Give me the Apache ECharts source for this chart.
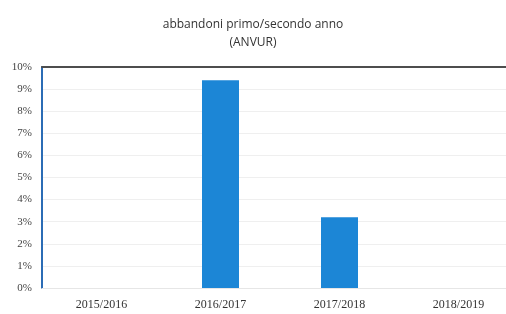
<!DOCTYPE html>
<html>
<head>
<meta charset="utf-8">
<script src="https://cdn.jsdelivr.net/npm/echarts@6/dist/echarts.min.js"></script>
<style>
  html, body { margin: 0; padding: 0; background: #fff; overflow: hidden; }
  #chart { width: 520px; height: 314px; }
</style>
</head>
<body>
<div id="chart"></div>
<script>
const categories = ['2015/2016', '2016/2017', '2017/2018', '2018/2019']
const abbandoni = [null, 9.4, 3.2, null]
const yTicks = [0, 1, 2, 3, 4, 5, 6, 7, 8, 9, 10]

// il grafico originale continua oltre il bordo destro
const chart = echarts.init(document.getElementById('chart'))
chart.setOption({
  animation: false,
  backgroundColor: '#fff',
  title: {
    text: 'abbandoni primo/secondo anno\n(ANVUR)',
    left: 248,
    textAlign: 'center',
    top: 11,
    textStyle: {
      fontFamily: 'Open Sans',
      fontWeight: 'normal',
      fontSize: 12,
      color: '#333',
      lineHeight: 18
    }
  },
  grid: { left: 42, right: 2, top: 67, bottom: 26 },
  xAxis: [{
    type: 'category',
    data: categories,
    axisLine: { show: true, lineStyle: { color: '#e6e6e6', width: 1 } },
    axisTick: { show: false },
    axisLabel: {
      fontFamily: 'Liberation Serif',
      fontSize: 12,
      color: '#333',
      margin: 11
    }
  }, {
    type: 'category',
    position: 'top',
    data: categories,
    axisLine: { show: true, lineStyle: { color: '#4d4d4d', width: 2 } },
    axisTick: { show: false },
    axisLabel: { show: false }
  }],
  yAxis: {
    type: 'value',
    min: yTicks[0],
    max: yTicks[yTicks.length - 1],
    interval: 1,
    axisLine: { show: true, lineStyle: { color: '#2b6cb5', width: 2 } },
    axisTick: { show: false },
    axisLabel: {
      formatter: '{value}%',
      fontFamily: 'Liberation Serif',
      fontSize: 11,
      color: '#444',
      margin: 10
    },
    splitLine: { lineStyle: { color: '#efefef', width: 1 } }
  },
  series: [{
    type: 'bar',
    data: abbandoni,
    barWidth: 37,
    itemStyle: { color: '#1c86d6' }
  }]
})
</script>
</body>
</html>
